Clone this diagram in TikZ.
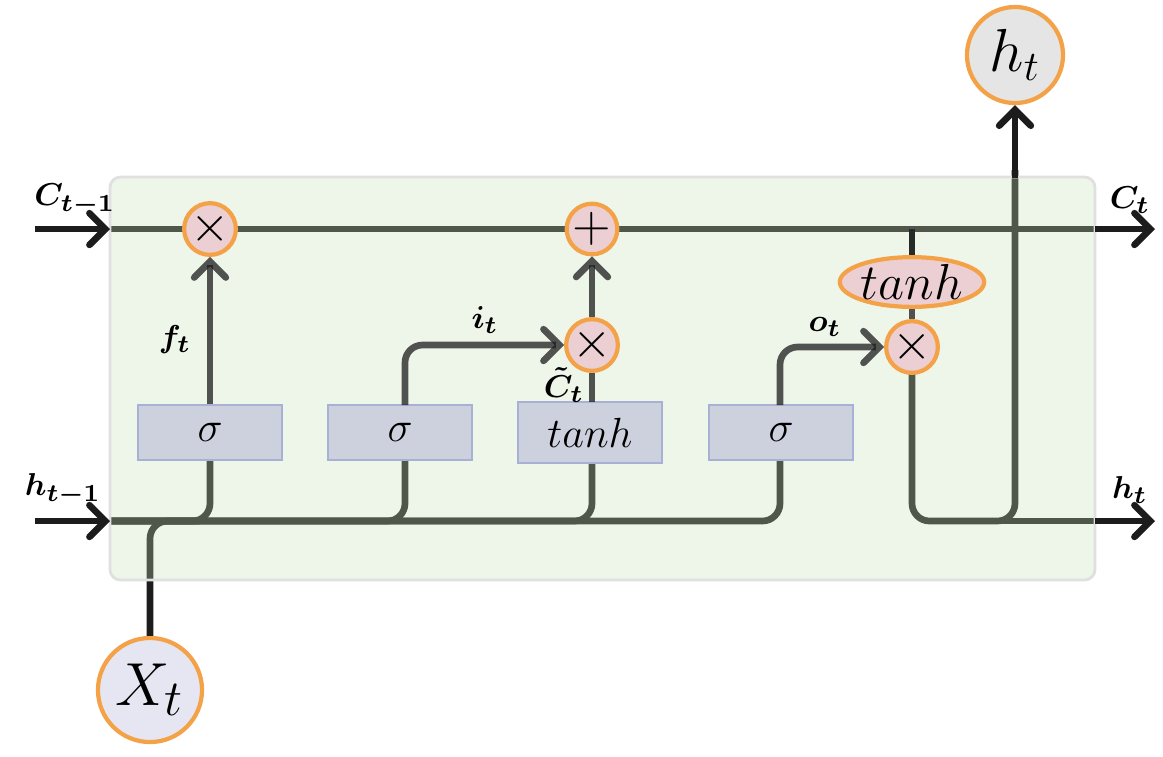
\documentclass[tikz,border=0pt]{standalone}
\usepackage{amsmath,bm}
\usetikzlibrary{arrows.meta,shapes.geometric}
\definecolor{orng}{HTML}{F4A248}
\definecolor{pinkf}{HTML}{ECCFD3}
\definecolor{gatef}{HTML}{CDD1DE}
\definecolor{gated}{HTML}{A9B0D6}
\definecolor{cellf}{RGB}{198,225,185}
\definecolor{ink}{HTML}{1C1C1C}
\tikzset{
  wire/.style={draw=ink, line width=1.9pt},
  arr/.style={wire, -{Straight Barb[length=4.5pt,width=9pt,line cap=round]}},
  gatebox/.style={draw=gated, fill=gatef, line width=0.6pt, minimum width=1.44cm, minimum height=0.55cm, inner sep=0pt, font=\fontsize{13}{15}\selectfont},
  opc/.style={circle, draw=orng, fill=pinkf, line width=1.2pt, minimum size=0.40cm, inner sep=0pt, font=\fontsize{14}{16}\selectfont},
  bigc/.style={circle, draw=orng, line width=1.2pt, inner sep=0pt},
  lbl/.style={font=\fontsize{9.5}{11}\selectfont, inner sep=1pt},
  rc/.style={rounded corners=5pt},
}
\begin{document}
\begin{tikzpicture}[x=0.01cm,y=-0.01cm]
\useasboundingbox (0,0) rectangle (1163,756);
% nodes
\node[bigc, fill=black!10, minimum size=0.96cm, font=\fontsize{17}{20}\selectfont] (ht) at (1015,55) {$h_t$};
\node[bigc, fill={rgb,255:red,230;green,230;blue,242}, minimum size=1.04cm, font=\fontsize{19}{22}\selectfont] (xt) at (150,690) {$X_t$};
\coordinate (cin) at (35,229);
\coordinate (cl) at (110,229);
\coordinate (cr) at (1095,229);
\coordinate (cout) at (1155,229);
\coordinate (hin) at (35,521);
\coordinate (hl) at (110,521);
\coordinate (hr) at (1095,521);
\coordinate (hout) at (1155,521);
% wires (drawn first, covered by translucent cell)
\draw[wire] (cl) -- (cr);
\draw[wire, rc] (hl) -| (780,405);
\draw[wire, rc] (hl) -| (210,405);
\draw[wire, rc] (hl) -| (405,405);
\draw[wire, rc] (hl) -| (592,405);
\draw[wire, rc] (xt.north) |- (200,521);
\draw[wire] (912,229) -- (912,300);
\draw[wire, rc] (912,330) |- (1015,521) -- (1015,170);
\draw[wire] (1000,521) -- (hr);
% cell
\fill[cellf, fill opacity=0.3, rounded corners=3pt] (110,177) rectangle (1095,580);
\draw[black!12, line width=0.8pt, rounded corners=3pt] (110,177) rectangle (1095,580);
% outer arrows
\draw[arr] (cin) -- (cl);
\draw[arr] (hin) -- (hl);
\draw[arr] (cr) -- (cout);
\draw[arr] (hr) -- (hout);
\draw[arr] (1015,178) -- (ht.south);
% gates
\node[gatebox] (fg) at (210,432.5) {$\sigma$};
\node[gatebox] (ig) at (400,432.5) {$\sigma$};
\node[gatebox, minimum height=0.61cm] (tg) at (590,432.5) {$tanh$};
\node[gatebox] (og) at (781,432.5) {$\sigma$};
% operators
\node[opc] (fx) at (210,229) {$\times$};
\node[opc] (pl) at (592,229) {$+$};
\node[opc] (ix) at (592,345) {$\times$};
\node[opc] (ox) at (912,347) {$\times$};
\node[ellipse, draw=orng, fill=pinkf, line width=1.2pt, minimum width=1.30cm, minimum height=0.40cm, inner sep=0pt, font=\fontsize{14}{16}\selectfont] (te) at (912,282) {$tanh$};
% inner connectors
\begin{scope}[opacity=0.75]
\draw[arr] (fg.north) -- (fx.south);
\draw[arr, rc] (405,405) |- (ix.west);
\draw[wire] (592,402) -- (ix.south);
\draw[arr] (ix.north) -- (pl.south);
\draw[arr, rc] (780,405) |- (ox.west);
\draw[wire] (912,229) -- (te.north);
\draw[wire] (te.south) -- (ox.north);
\end{scope}
% labels
\node[lbl] (lc1) at (75,200) {$\boldsymbol{C_{t-1}}$};
\node[lbl] (lh1) at (63,490) {$\boldsymbol{h_{t-1}}$};
\node[lbl] (lc) at (1130,200) {$\boldsymbol{C_{t}}$};
\node[lbl] (lh) at (1130,490) {$\boldsymbol{h_{t}}$};
\node[lbl] (lf) at (175,340) {$\boldsymbol{f_{t}}$};
\node[lbl] (li) at (485,320) {$\boldsymbol{i_{t}}$};
\node[lbl] (lct) at (564,385) {$\boldsymbol{\tilde{C}_{t}}$};
\node[lbl] (lo) at (825,327) {$\boldsymbol{o_{t}}$};
\end{tikzpicture}
\end{document}
